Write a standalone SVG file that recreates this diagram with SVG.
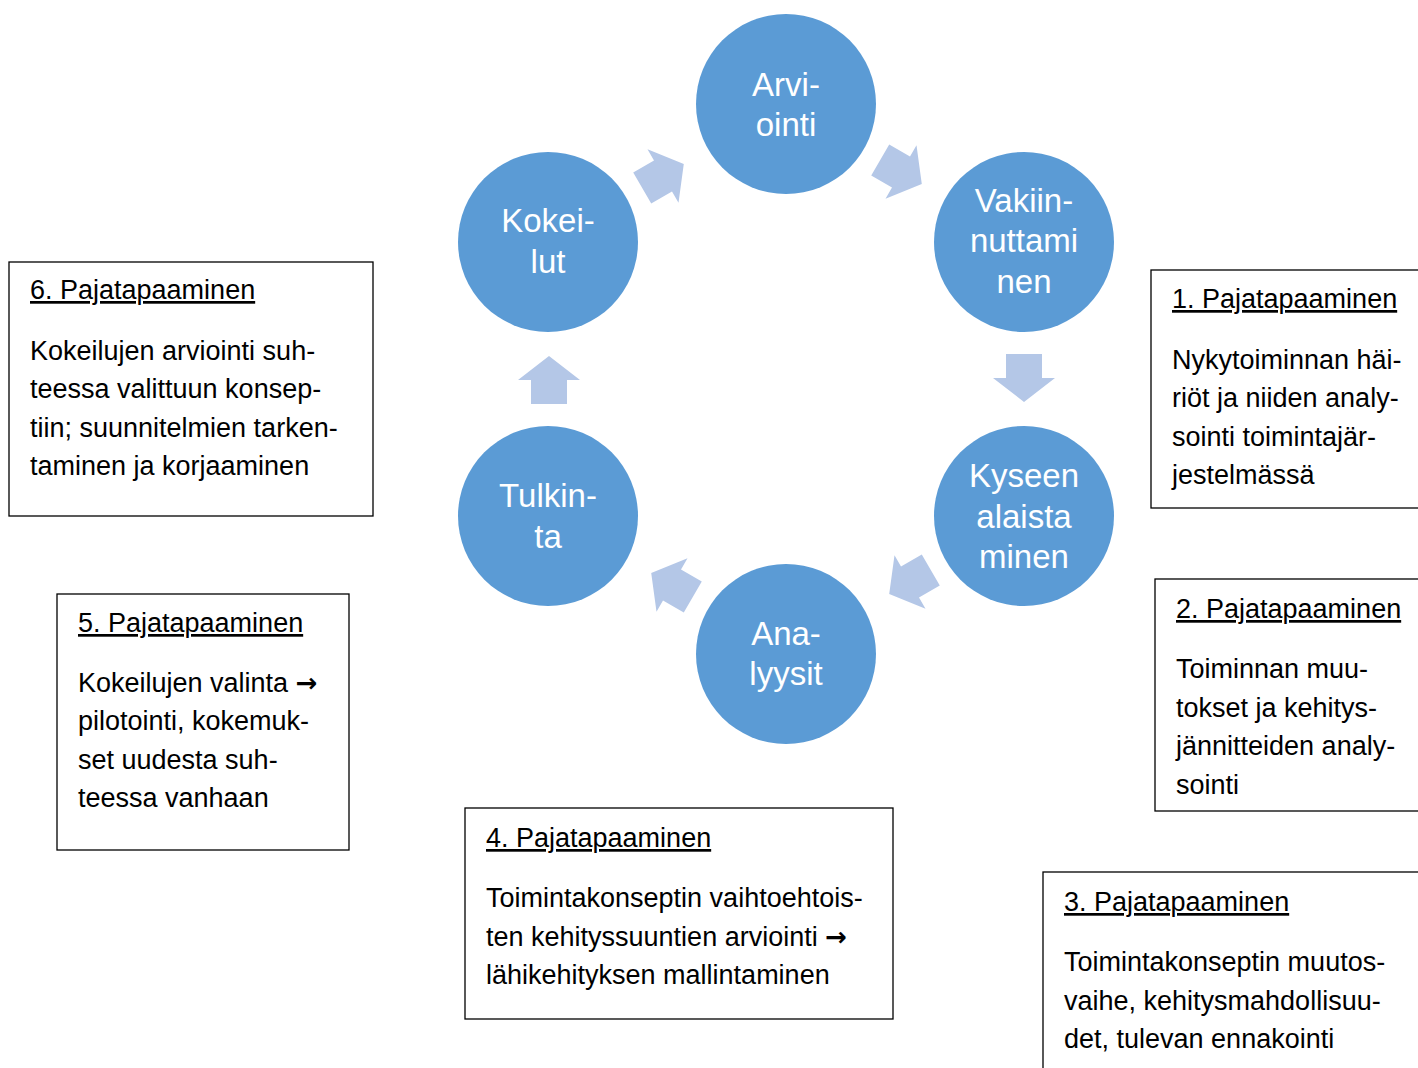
<svg xmlns="http://www.w3.org/2000/svg" width="1418" height="1068" viewBox="0 0 1418 1068">
<style>
.c{fill:#5B9BD5}
.ct{font-family:"Liberation Sans",Arial,sans-serif;font-size:33px;fill:#fff;text-anchor:middle}
.a{fill:#B4C7E7}
.b{fill:#fff;stroke:#000;stroke-width:1.3}
.t{font-family:"Liberation Sans",Arial,sans-serif;font-size:27px;fill:#000}
.h{text-decoration:underline}
.ar{font-family:"DejaVu Sans",sans-serif;font-size:26px;font-weight:bold}
</style>
<defs>
<path id="arr" d="M-24,-18 L0,-18 L0,-31 L24,0 L0,31 L0,18 L-24,18 Z"/>
</defs>
<rect width="1418" height="1068" fill="#fff"/>
<g id="connectors">
<use href="#arr" class="a" transform="translate(663,176) rotate(-30)"/>
<use href="#arr" class="a" transform="translate(901,172) rotate(30)"/>
<use href="#arr" class="a" transform="translate(1024,378) rotate(90)"/>
<use href="#arr" class="a" transform="translate(910,582) rotate(150)"/>
<use href="#arr" class="a" transform="translate(672,585) rotate(210)"/>
<use href="#arr" class="a" transform="translate(549,380) rotate(-90)"/>
</g>
<g id="n-arviointi">
<circle class="c" cx="786" cy="104" r="90"/>
<text class="ct" x="786" y="96">Arvi-</text>
<text class="ct" x="786" y="136">ointi</text>
</g>
<g id="n-vakiinnuttaminen">
<circle class="c" cx="1024" cy="242" r="90"/>
<text class="ct" x="1024" y="212">Vakiin-</text>
<text class="ct" x="1024" y="252">nuttami</text>
<text class="ct" x="1024" y="293">nen</text>
</g>
<g id="n-kyseenalaistaminen">
<circle class="c" cx="1024" cy="516" r="90"/>
<text class="ct" x="1024" y="487">Kyseen</text>
<text class="ct" x="1024" y="528">alaista</text>
<text class="ct" x="1024" y="568">minen</text>
</g>
<g id="n-analyysit">
<circle class="c" cx="786" cy="654" r="90"/>
<text class="ct" x="786" y="645">Ana-</text>
<text class="ct" x="786" y="685">lyysit</text>
</g>
<g id="n-tulkinta">
<circle class="c" cx="548" cy="516" r="90"/>
<text class="ct" x="548" y="507">Tulkin-</text>
<text class="ct" x="548" y="548">ta</text>
</g>
<g id="n-kokeilut">
<circle class="c" cx="548" cy="242" r="90"/>
<text class="ct" x="548" y="232">Kokei-</text>
<text class="ct" x="548" y="273">lut</text>
</g>
<g id="box6">
<rect class="b" x="9" y="262" width="364" height="254"/>
<text class="t h" x="30" y="299">6. Pajatapaaminen</text>
<text class="t" x="30" y="360">Kokeilujen arviointi suh-</text>
<text class="t" x="30" y="398">teessa valittuun konsep-</text>
<text class="t" x="30" y="437">tiin; suunnitelmien tarken-</text>
<text class="t" x="30" y="475">taminen ja korjaaminen</text>
</g>
<g id="box5">
<rect class="b" x="57" y="594" width="292" height="256"/>
<text class="t h" x="78" y="632">5. Pajatapaaminen</text>
<text class="t" x="78" y="692">Kokeilujen valinta <tspan class="ar">→</tspan></text>
<text class="t" x="78" y="730">pilotointi, kokemuk-</text>
<text class="t" x="78" y="769">set uudesta suh-</text>
<text class="t" x="78" y="807">teessa vanhaan</text>
</g>
<g id="box4">
<rect class="b" x="465" y="808" width="428" height="211"/>
<text class="t h" x="486" y="847">4. Pajatapaaminen</text>
<text class="t" x="486" y="907">Toimintakonseptin vaihtoehtois-</text>
<text class="t" x="486" y="946">ten kehityssuuntien arviointi <tspan class="ar">→</tspan></text>
<text class="t" x="486" y="984">lähikehityksen mallintaminen</text>
</g>
<g id="box1">
<rect class="b" x="1151" y="270" width="290" height="238"/>
<text class="t h" x="1172" y="308">1. Pajatapaaminen</text>
<text class="t" x="1172" y="369">Nykytoiminnan häi-</text>
<text class="t" x="1172" y="407">riöt ja niiden analy-</text>
<text class="t" x="1172" y="446">sointi toimintajär-</text>
<text class="t" x="1172" y="484">jestelmässä</text>
</g>
<g id="box2">
<rect class="b" x="1155" y="579" width="290" height="232"/>
<text class="t h" x="1176" y="618">2. Pajatapaaminen</text>
<text class="t" x="1176" y="678">Toiminnan muu-</text>
<text class="t" x="1176" y="717">tokset ja kehitys-</text>
<text class="t" x="1176" y="755">jännitteiden analy-</text>
<text class="t" x="1176" y="794">sointi</text>
</g>
<g id="box3">
<rect class="b" x="1043" y="872" width="400" height="220"/>
<text class="t h" x="1064" y="911">3. Pajatapaaminen</text>
<text class="t" x="1064" y="971">Toimintakonseptin muutos-</text>
<text class="t" x="1064" y="1010">vaihe, kehitysmahdollisuu-</text>
<text class="t" x="1064" y="1048">det, tulevan ennakointi</text>
</g>
</svg>
